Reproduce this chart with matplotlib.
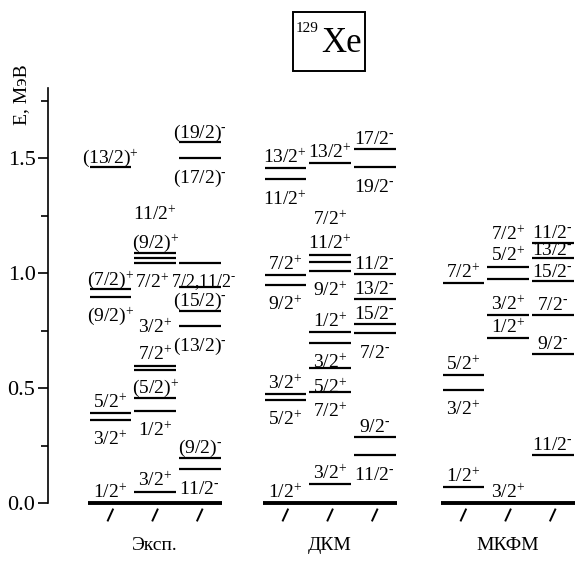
import matplotlib.pyplot as plt
from matplotlib.patches import Rectangle

plt.rcParams['font.family'] = 'Liberation Serif'
plt.rcParams['mathtext.fontset'] = 'custom'
plt.rcParams['mathtext.rm'] = 'Liberation Serif'
plt.rcParams['mathtext.it'] = 'Liberation Serif:italic'
plt.rcParams['mathtext.bf'] = 'Liberation Serif:bold'

groups = ['Эксп.', 'ДКМ', 'МКФМ']

# level energies (MeV) and spins, one list per column
exp1_e = [0.0, 0.36, 0.39, 0.895, 0.93, 1.46]
exp1_j = ['1/2+', '3/2+', '5/2+', '(9/2)+', '(7/2)+', '(13/2)+']
exp2_e = [0.05, 0.40, 0.455, 0.58, 0.597, 1.045, 1.065, 1.085]
exp2_j = ['3/2+', '1/2+', '(5/2)+', '3/2+', '7/2+', '7/2+', '(9/2)+', '11/2+']
exp3_e = [0.15, 0.194, 0.77, 0.833, 0.94, 1.045, 1.50, 1.57]
exp3_j = ['11/2-', '(9/2)-', '(13/2)-', '(15/2)-', '', '7/2,11/2-', '(17/2)-', '(19/2)-']

dkm1_e = [0.0, 0.447, 0.472, 0.95, 0.99, 1.41, 1.455]
dkm1_j = ['1/2+', '5/2+', '3/2+', '9/2+', '7/2+', '11/2+', '13/2+']
dkm2_e = [0.083, 0.483, 0.586, 0.697, 0.743, 1.008, 1.046, 1.08, 1.48]
dkm2_j = ['3/2+', '7/2+', '5/2+', '3/2+', '1/2+', '9/2+', '11/2+', '7/2+', '13/2+']
dkm3_e = [0.208, 0.285, 0.739, 0.778, 0.885, 0.995, 1.46, 1.54]
dkm3_j = ['11/2-', '9/2-', '7/2-', '15/2-', '13/2-', '11/2-', '19/2-', '17/2-']

mkfm1_e = [0.069, 0.493, 0.556, 0.958]
mkfm1_j = ['1/2+', '3/2+', '5/2+', '7/2+']
mkfm2_e = [0.0, 0.718, 0.819, 0.972, 1.024]
mkfm2_j = ['3/2+', '1/2+', '3/2+', '5/2+', '7/2+']
mkfm3_e = [0.208, 0.646, 0.819, 0.965, 1.065, 1.132]
mkfm3_j = ['11/2-', '9/2-', '7/2-', '15/2-', '13/2-', '11/2-']

# label baseline shift from its level, in pixels (positive = up)
exp1_dy = [5, -25, 5, -24, 4, 4]
exp2_dy = [5, -25, 5, 37, 6, -25, 10, 33]
exp3_dy = [-25, 5, -25, 5, 0, -24, -25, 4]
dkm1_dy = [5, -25, 5, -25, 5, -26, 5]
dkm2_dy = [5, -25, -25, -25, 5, -25, 13, 30, 5]
dkm3_dy = [-25, 5, -25, 5, 5, 5, -25, 5]
mkfm1_dy = [5, -25, 5, 5]
mkfm2_dy = [5, 5, 5, 18, 27]
mkfm3_dy = [5, 5, 5, 4, 3, 5]

# horizontal nudge of a few labels, in pixels
exp2_dx = [0, 0, 0, 0, 0, -3, 0, 0]
exp3_dx = [0, 0, 0, 0, 0, 4, 0, 0]

columns = [
    [(exp1_e, exp1_j, exp1_dy, None), (exp2_e, exp2_j, exp2_dy, exp2_dx),
     (exp3_e, exp3_j, exp3_dy, exp3_dx)],
    [(dkm1_e, dkm1_j, dkm1_dy, None), (dkm2_e, dkm2_j, dkm2_dy, None),
     (dkm3_e, dkm3_j, dkm3_dy, None)],
    [(mkfm1_e, mkfm1_j, mkfm1_dy, None), (mkfm2_e, mkfm2_j, mkfm2_dy, None),
     (mkfm3_e, mkfm3_j, mkfm3_dy, None)],
]

group_x0 = [88, 263, 441]
col_w = 44.7
px_per_mev = 230.0
ground_px = 503


def spin_label(s):
    body, parity = s[:-1], s[-1]
    sign = '+' if parity == '+' else r'\text{-}'
    return body + r'$^{' + sign + '}$'


W = H = 583
fig = plt.figure(figsize=(W / 100, H / 100), dpi=100)
y_bot = -(H - ground_px) / px_per_mev
y_top = (ground_px - 88) / px_per_mev
ax = fig.add_axes([48 / W, 0, (W - 48) / W, (H - 88) / H])
ax.set_xlim(48, W)
ax.set_ylim(y_bot, y_top)

for s in ['top', 'right', 'bottom']:
    ax.spines[s].set_visible(False)
ax.spines['left'].set_bounds(0, y_top)
ax.spines['left'].set_linewidth(1.2)
ax.set_xticks([])
ax.set_yticks([0, 0.5, 1.0, 1.5])
ax.set_yticklabels(['0.0', '0.5', '1.0', '1.5'], fontsize=16)
ax.set_yticks([0.25, 0.75, 1.25, 1.75], minor=True)
ax.tick_params(axis='y', which='major', direction='out', length=7, width=1.2, pad=2)
ax.tick_params(axis='y', which='minor', direction='out', length=5, width=1.2)

slash_y = -12 / px_per_mev
slash_h = 5.5 / px_per_mev
for g, cols in enumerate(columns):
    x0g = group_x0[g]
    ax.plot([x0g, x0g + 3 * col_w], [0, 0], color='black', lw=2.8,
            solid_capstyle='butt', clip_on=False)
    for c, (energies, spins, dys, dxs) in enumerate(cols):
        x0 = x0g + c * col_w
        xc = x0 + col_w / 2
        if dxs is None:
            dxs = [0] * len(energies)
        for e, j, dy, dx in zip(energies, spins, dys, dxs):
            if e > 0:
                ax.plot([x0 + 1.5, x0 + col_w - 1.5], [e, e], color='black',
                        lw=1.6, solid_capstyle='butt')
            if j:
                size = 13 if ',' in j else 14
                ax.annotate(spin_label(j), (xc, e), xytext=(dx * 0.72, dy * 0.72),
                            textcoords='offset points', ha='center',
                            va='baseline', fontsize=size)
        ax.plot([xc - 2.5, xc + 2.5], [slash_y - slash_h, slash_y + slash_h],
                color='black', lw=1.4, clip_on=False)
    ax.text(x0g + 1.5 * col_w, -42 / px_per_mev, groups[g], ha='center',
            va='center', fontsize=14)

fig.text(22 / W, 1 - 95 / H, 'E, МэВ', rotation=90, ha='center',
         va='center', fontsize=14)

# isotope label in a framed box
fig.patches.append(Rectangle((293 / W, 1 - 71 / H), 72 / W, 59 / H,
                             transform=fig.transFigure, fill=False,
                             lw=1.4, color='black'))
fig.text(319 / W, 1 - 29 / H, '129', ha='right', va='center', fontsize=11)
fig.text(321 / W, 1 - 52 / H, 'Xe', ha='left', va='baseline', fontsize=25)

fig.savefig('out.png', dpi=100)
